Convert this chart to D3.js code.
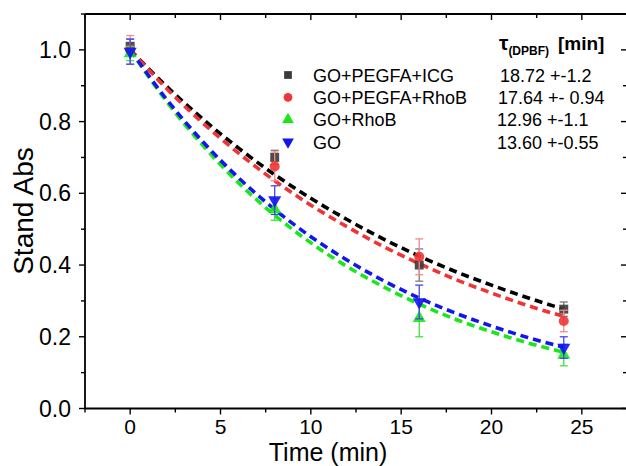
<!DOCTYPE html>
<html><head><meta charset="utf-8">
<script src="https://cdn.jsdelivr.net/npm/d3@7"></script>
<style>body{margin:0;background:#fff}svg{display:block;font-family:"Liberation Sans",Arial,sans-serif}</style>
</head><body>
<svg id="c" width="626" height="466"></svg>
<script>
// ---- data ----
const times = [0, 8, 16, 24];
const seriesNames = ["GO+PEGFA+ICG", "GO+PEGFA+RhoB", "GO+RhoB", "GO"];
const tauLabels = ["18.72 +-1.2", "17.64 +- 0.94", "12.96 +-1.1", "13.60 +-0.55"];
const icgVals = [1.01, 0.70, 0.40, 0.277];
const icgErr = [0.02, 0.02, 0.045, 0.02];
const pegRhoVals = [1.00, 0.675, 0.423, 0.244];
const pegRhoErr = [0.04, 0.04, 0.05, 0.03];
const rhoVals = [0.99, 0.555, 0.252, 0.149];
const rhoErr = [0.02, 0.03, 0.052, 0.03];
const goVals = [0.995, 0.581, 0.297, 0.17];
const goErr = [0.035, 0.04, 0.047, 0.03];
// fitted curves
const fitTimes = [0, 2, 4, 6, 8, 10, 12, 14, 16, 18, 20, 22, 24];
const icgFit = [1.0, 0.899, 0.808, 0.726, 0.652, 0.586, 0.527, 0.473, 0.425, 0.382, 0.344, 0.309, 0.277];
const pegRhoFit = [1.0, 0.893, 0.797, 0.712, 0.635, 0.567, 0.507, 0.452, 0.404, 0.360, 0.322, 0.287, 0.257];
const rhoFit = [1.0, 0.857, 0.735, 0.629, 0.539, 0.462, 0.396, 0.340, 0.291, 0.249, 0.214, 0.183, 0.157];
const goFit = [1.0, 0.863, 0.745, 0.643, 0.555, 0.479, 0.414, 0.357, 0.308, 0.266, 0.230, 0.198, 0.171];
const xTicks = [0, 5, 10, 15, 20, 25];
const yTicks = [0.0, 0.2, 0.4, 0.6, 0.8, 1.0];

const series = [
  {name: seriesNames[0], tau: tauLabels[0], vals: icgVals, err: icgErr, fit: icgFit, color: "#3a3a3a", ecolor: "#7a7a7a", sym: d3.symbolSquare},
  {name: seriesNames[1], tau: tauLabels[1], vals: pegRhoVals, err: pegRhoErr, fit: pegRhoFit, color: "#f03434", ecolor: "#f58a8a", sym: d3.symbolCircle},
  {name: seriesNames[2], tau: tauLabels[2], vals: rhoVals, err: rhoErr, fit: rhoFit, color: "#18e818", ecolor: "#40e040", sym: d3.symbolTriangle},
  {name: seriesNames[3], tau: tauLabels[3], vals: goVals, err: goErr, fit: goFit, color: "#1414f0", ecolor: "#4646f0", sym: "down"}
];

const svg = d3.select("#c");
const L = 85, R = 627, T = 14, B = 408.5;
const x = d3.scaleLinear().domain([-2.5, 27.5]).range([L, R]);
const y = d3.scaleLinear().domain([0, 1.1]).range([B, T]);

// fit curves
const line = d3.line().x((d, i) => x(fitTimes[i])).y(d => y(d)).curve(d3.curveMonotoneX);
series.forEach(s => {
  svg.append("path").attr("d", line(s.fit)).attr("fill", "none")
    .attr("stroke", s.color === "#3a3a3a" ? "#000" : s.color)
    .attr("stroke-width", 3.6).attr("stroke-dasharray", "8,5");
});

function symPath(s, size) {
  if (s.sym === "down") {
    return d3.symbol().type(d3.symbolTriangle).size(size)();
  }
  return d3.symbol().type(s.sym).size(size)();
}

// error bars + points
series.forEach(s => {
  const g = svg.append("g");
  times.forEach((t, i) => {
    const cx = x(t), y1 = y(s.vals[i] + s.err[i]), y2 = y(s.vals[i] - s.err[i]);
    g.append("line").attr("x1", cx).attr("x2", cx).attr("y1", y1).attr("y2", y2).attr("stroke", s.ecolor).attr("stroke-width", 1.3);
    [y1, y2].forEach(yy => g.append("line").attr("x1", cx - 4).attr("x2", cx + 4).attr("y1", yy).attr("y2", yy).attr("stroke", s.ecolor).attr("stroke-width", 1.3));
    const size = s.sym === d3.symbolCircle ? 80 : (s.sym === d3.symbolSquare ? 80 : 75);
    g.append("path").attr("d", symPath(s, size))
      .attr("transform", `translate(${cx},${y(s.vals[i])})` + (s.sym === "down" ? " rotate(180)" : ""))
      .attr("fill", s.color).attr("fill-opacity", 0.9);
  });
});

// axes
const ax = svg.append("g").attr("stroke", "#000").attr("stroke-width", 1.8);
ax.append("line").attr("x1", L).attr("x2", R).attr("y1", B).attr("y2", B);
ax.append("line").attr("x1", L).attr("x2", R).attr("y1", T).attr("y2", T);
ax.append("line").attr("x1", L).attr("x2", L).attr("y1", T).attr("y2", B);
ax.append("line").attr("x1", R).attr("x2", R).attr("y1", T).attr("y2", B);

const xt = svg.append("g").attr("stroke", "#000").attr("stroke-width", 1.4);
d3.range(-2.5, 27.51, 2.5).forEach(v => {
  const major = Math.abs(v % 5) < 1e-6;
  const len = major ? 6 : 4;
  xt.append("line").attr("x1", x(v)).attr("x2", x(v)).attr("y1", B).attr("y2", B + len);
  xt.append("line").attr("x1", x(v)).attr("x2", x(v)).attr("y1", T).attr("y2", T + len);
});
d3.range(0, 1.101, 0.1).forEach(v => {
  const major = Math.round(v * 10) % 2 === 0;
  const len = major ? 6 : 4;
  xt.append("line").attr("x1", L).attr("x2", L - len).attr("y1", y(v)).attr("y2", y(v));
  xt.append("line").attr("x1", R).attr("x2", R - len).attr("y1", y(v)).attr("y2", y(v));
});

svg.append("g").selectAll("text").data(xTicks).join("text")
  .attr("x", d => x(d)).attr("y", 433.5).attr("text-anchor", "middle")
  .attr("font-size", 21).text(d => d);
svg.append("g").selectAll("text").data(yTicks).join("text")
  .attr("x", 71).attr("y", d => y(d) + 8).attr("text-anchor", "end")
  .attr("font-size", 23).text(d => d.toFixed(1));

svg.append("text").attr("x", 328).attr("y", 460.5).attr("text-anchor", "middle").attr("font-size", 25).text("Time (min)");
svg.append("text").attr("transform", "translate(33,211) rotate(-90)").attr("text-anchor", "middle").attr("font-size", 28).text("Stand Abs");

// legend
const hdr = svg.append("text").attr("x", 499).attr("y", 50).attr("font-weight", "bold").attr("font-size", 19);
hdr.append("tspan").attr("font-size", 21).text("τ");
hdr.append("tspan").attr("font-size", 12).attr("dy", 5).text("(DPBF)");
hdr.append("tspan").attr("dy", -5).attr("x", 558).text("[min]");

const rowY = [75, 97.3, 119.6, 142];
series.forEach((s, i) => {
  svg.append("path").attr("d", symPath(s, 60))
    .attr("transform", `translate(288,${rowY[i]})` + (s.sym === "down" ? " rotate(180)" : ""))
    .attr("fill", s.color);
  svg.append("text").attr("x", 313).attr("y", rowY[i] + 6.5).attr("font-size", 18).text(s.name);
  svg.append("text").attr("x", [500, 498, 497, 497][i]).attr("y", rowY[i] + 6.5).attr("font-size", 18).text(s.tau);
});
</script>
</body></html>
